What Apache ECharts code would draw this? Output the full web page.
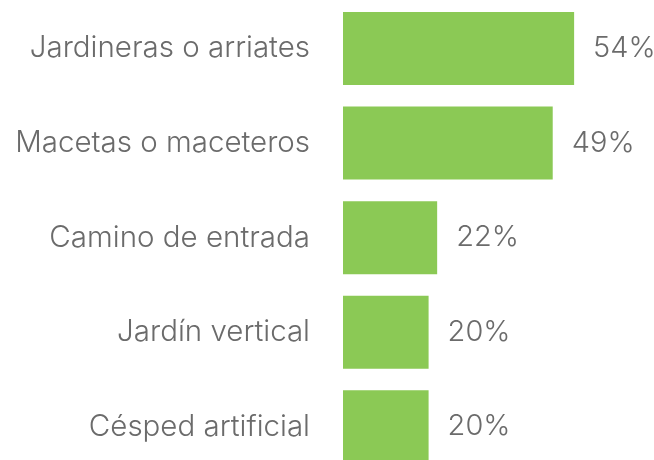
<!DOCTYPE html>
<html><head><meta charset="utf-8">
<script src="https://cdn.jsdelivr.net/npm/echarts@6/dist/echarts.min.js"></script>
<style>html,body{margin:0;padding:0;background:#fff;overflow:hidden}#c{width:654px;height:474px}</style>
</head><body><div id="c"></div>
<script>
const categories = ["Jardineras o arriates", "Macetas o maceteros", "Camino de entrada", "Jardín vertical", "Césped artificial"];
const values = [54, 49, 22, 20, 20];
const chart = echarts.init(document.getElementById('c'));
const font = 'Inter, "Open Sans", sans-serif';
chart.setOption({
  animation: false,
  grid: { left: 343, right: 54.2, top: 1.25, bottom: 0, containLabel: false },
  xAxis: { type: 'value', min: 0, max: 60, show: false },
  yAxis: {
    type: 'category', data: categories, inverse: true,
    axisLine: { show: false }, axisTick: { show: false }, splitLine: { show: false },
    axisLabel: { margin: 33, fontSize: 29.5, color: '#6b6b6b', fontFamily: font, fontWeight: 300, padding: [5, 0, 0, 0] }
  },
  series: [{
    type: 'bar', data: values, barWidth: 73,
    itemStyle: { color: '#8bc955' },
    label: { show: true, position: 'right', distance: 19, formatter: '{c}%', fontSize: 29, color: '#6b6b6b', fontFamily: font, fontWeight: 300, padding: [5, 0, 0, 0] }
  }]
});
</script></body></html>
